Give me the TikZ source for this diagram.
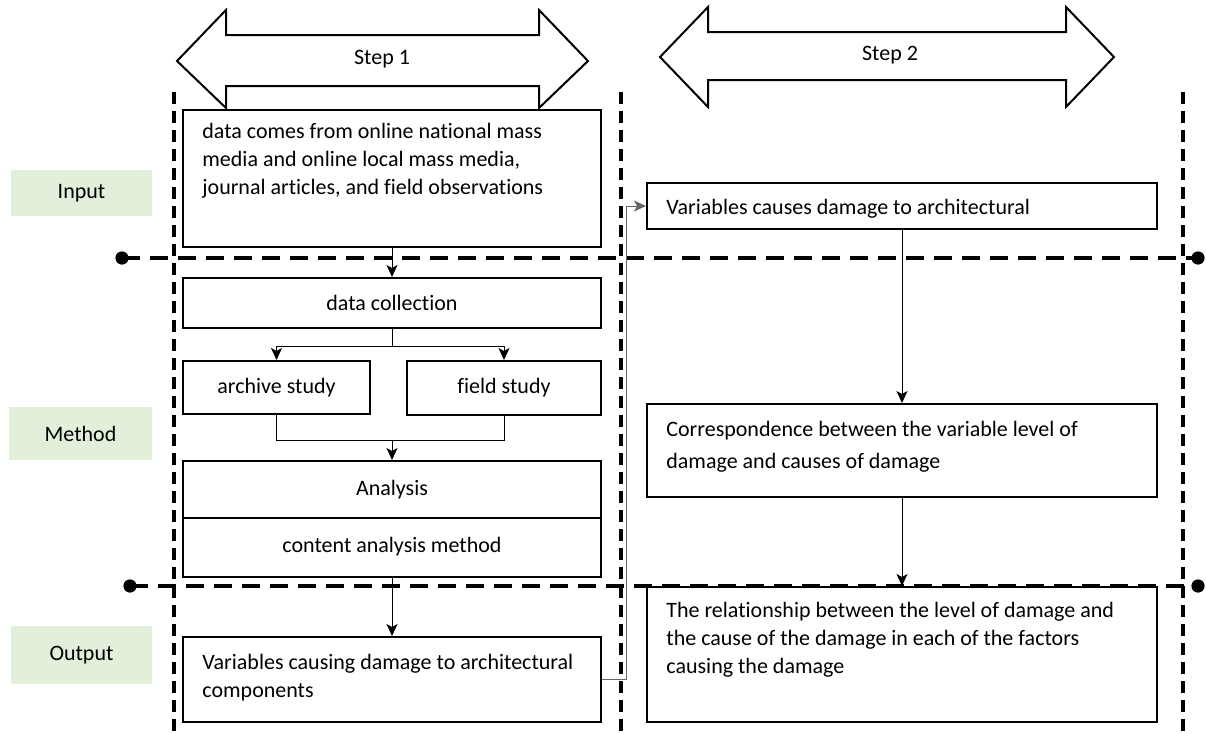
\documentclass[tikz,border=0pt]{standalone}
\usepackage{fontspec}
\setmainfont{Carlito}[Ligatures=NoCommon]
\usepackage{tikz}
\usetikzlibrary{arrows.meta}
\definecolor{lblgreen}{HTML}{E2EFDA}

\begin{document}
\begin{tikzpicture}[x=0.5pt, y=-0.5pt, font=\fontsize{11pt}{14pt}\selectfont,
        box/.style={draw, line width=1pt, inner sep=0pt},
        lbl/.style={fill=lblgreen, inner sep=0pt},
        txt/.style={align=left, inner sep=0pt},
        conn/.style={line width=0.5pt, -{Stealth[length=6pt, width=5.5pt, inset=1.5pt]}},
        link/.style={line width=0.5pt},
        hline/.style={line width=2pt, dash pattern=on 9pt off 5pt},
        vline/.style={line width=1.6pt, dash pattern=on 6pt off 3.5pt}]
        \useasboundingbox (0,0) rectangle (1206,734);

        \draw[line width=1pt] (177,61) -- (226,10) -- (226,35) -- (539,35) -- (539,10) -- (588,61)
                -- (539,108) -- (539,86) -- (226,86) -- (226,108) -- cycle;
        \node (step1) at (382,59) {Step 1};
        \draw[line width=1pt] (660,57) -- (708,7) -- (708,32) -- (1066,32) -- (1066,7) -- (1114,57)
                -- (1066,107) -- (1066,80) -- (708,80) -- (708,107) -- cycle;
        \node (step2) at (890,55) {Step 2};

        \draw[vline] (174,92) -- (174,734);
        \draw[vline] (621,92) -- (621,734);
        \draw[vline] (1183,92) -- (1183,734);

        \draw[hline] (122,258) -- (1198,258);
        \draw[hline] (130,586) -- (1198,586);
        \fill (122,258) circle[radius=3.3pt];
        \fill (1198,258) circle[radius=3.3pt];
        \fill (130,586) circle[radius=3.3pt];
        \fill (1198,586) circle[radius=3.3pt];

        \node[lbl, minimum width=70.5pt, minimum height=23pt] (lblin) at (81.5,193) {Input};
        \node[lbl, minimum width=71.5pt, minimum height=26.5pt] (lblmeth) at (80.5,433.5) {Method};
        \node[lbl, minimum width=70.5pt, minimum height=29pt] (lblout) at (81.5,655) {Output};

        \node[box, minimum width=209pt, minimum height=68.5pt] (src) at (392,178.5) {};
        \node[txt, anchor=north west] (srctext) at ([xshift=10pt, yshift=-7pt]src.north west)
                {data comes from online national mass\\media and online local mass media,\\journal articles, and field observations};
        \node[box, minimum width=209pt, minimum height=25pt] (collect) at (392,303) {data collection};
        \node[box, minimum width=93.5pt, minimum height=26.5pt] (archive) at (276.5,387.5) {\raisebox{1pt}{archive study}};
        \node[box, minimum width=97pt, minimum height=27pt] (field) at (504,388) {\raisebox{1pt}{field study}};
        \node[box, minimum width=209pt, minimum height=28.5pt] (analysis) at (392,489.5) {Analysis};
        \node[box, minimum width=209pt, minimum height=29.5pt] (content) at (392,547.5) {\raisebox{3pt}{content analysis method}};
        \node[box, minimum width=209pt, minimum height=42.5pt] (varout) at (392,679.5) {};
        \node[txt, anchor=north west] (varouttext) at ([xshift=10pt, yshift=-9pt]varout.north west)
                {Variables causing damage to architectural\\components};

        \node[box, minimum width=255pt, minimum height=23pt] (varcause) at (902,206) {};
        \node[txt, anchor=west] (varcausetext) at ([xshift=10pt, yshift=-1.5pt]varcause.west) {Variables causes damage to architectural};
        \node[box, minimum width=255pt, minimum height=46.5pt] (corr) at (902,450.5) {};
        \node[txt, anchor=north west] (corrtext) at ([xshift=10pt, yshift=-9pt]corr.north west)
                {Correspondence between the variable level of\\[2pt]damage and causes of damage};
        \node[box, minimum width=255pt, minimum height=67.5pt] (rel) at (902,654.5) {};
        \node[txt, anchor=north west] (reltext) at ([xshift=10pt, yshift=-8pt]rel.north west)
                {The relationship between the level of damage and\\the cause of the damage in each of the factors\\causing the damage};

        \coordinate (join) at (392,440);
        \draw[conn] (src) -- (collect);
        \draw[conn] (collect.south) -- ++(0,17) -| (archive.north);
        \draw[conn] (collect.south) -- ++(0,17) -| (field.north);
        \draw[link] (archive.south) |- (join);
        \draw[link] (field.south) |- (join);
        \draw[conn] (join) -- (analysis);
        \draw[conn] (content) -- (varout);
        \draw[conn, gray!80!black] (varout.east) -- ++(24,0) |- (varcause.west);
        \draw[conn] (varcause) -- (corr);
        \draw[conn] (corr) -- (rel);
\end{tikzpicture}
\end{document}
